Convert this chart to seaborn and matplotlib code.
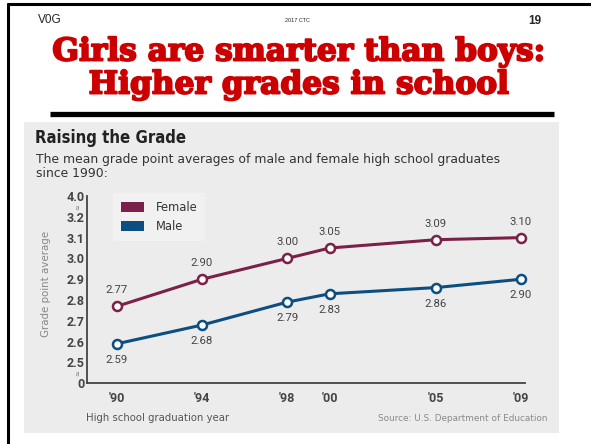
import pandas as pd
import seaborn as sns
import matplotlib.pyplot as plt
import matplotlib.patheffects as pe
from matplotlib.patches import Patch, Rectangle
from matplotlib.lines import Line2D

# data
years = [1990, 1994, 1998, 2000, 2005, 2009]
year_labels = ["'90", "'94", "'98", "'00", "'05", "'09"]
female_gpa = [2.77, 2.90, 3.00, 3.05, 3.09, 3.10]
male_gpa = [2.59, 2.68, 2.79, 2.83, 2.86, 2.90]

# broken y axis: "0" sits one step below 2.5, "4.0" one step above 3.2
ytick_pos = [2.4, 2.5, 2.6, 2.7, 2.8, 2.9, 3.0, 3.1, 3.2, 3.3]
ytick_labels = ["0", "2.5", "2.6", "2.7", "2.8", "2.9", "3.0", "3.1", "3.2", "4.0"]

colors = {"Female": "#7b2049", "Male": "#0d4e80"}

W, H = 591, 444
NARROW = "Roboto"


def px(x, y):
    # pixel position (from top-left) -> figure fraction
    return x / W, 1 - y / H


df = pd.DataFrame({
    "year": years * 2,
    "gpa": female_gpa + male_gpa,
    "sex": ["Female"] * len(years) + ["Male"] * len(years),
})

sns.set_style("white")
fig = plt.figure(figsize=(W / 100, H / 100), dpi=100)
fig.patch.set_facecolor("white")

# slide frame (top and left edges only)
fig.add_artist(Line2D([8 / W, 1], [1 - 4 / H, 1 - 4 / H], color="black", lw=2.2))
fig.add_artist(Line2D([8 / W, 8 / W], [0, 1 - 4 / H], color="black", lw=2.2))

# slide header
fig.text(*px(38, 20), "V0G", fontsize=8.5, family="Liberation Sans", va="center")
fig.text(*px(297, 20), "2017 CTC", fontsize=4, family="Liberation Sans", va="center", ha="center")
fig.text(*px(541, 21), "19", fontsize=8.5, family="Liberation Sans", weight="bold",
         va="center", ha="right")
title_fx = [pe.withStroke(linewidth=1.4, foreground="#cc0000")]
fig.text(*px(299, 52), "Girls are smarter than boys:", fontsize=22.5, family="DejaVu Serif",
         weight="heavy", color="#cc0000", ha="center", va="center", path_effects=title_fx)
fig.text(*px(299, 85), "Higher grades in school", fontsize=22.5, family="DejaVu Serif",
         weight="heavy", color="#cc0000", ha="center", va="center", path_effects=title_fx)
fig.add_artist(Line2D([50 / W, 554 / W], [1 - 114.5 / H, 1 - 114.5 / H], color="black", lw=3.8,
                      solid_capstyle="butt"))

# grey panel of the graphic
x0, y0 = px(24, 433)
fig.add_artist(Rectangle((x0, y0), 535 / W, 311 / H, transform=fig.transFigure,
                         facecolor="#ececec", edgecolor="none", zorder=0))

fig.text(*px(35, 138), "Raising the Grade", fontsize=12, family="DejaVu Sans",
         stretch="condensed", weight="bold", color="#222222", va="center")
fig.text(*px(36, 160), "The mean grade point averages of male and female high school graduates",
         fontsize=8.95, color="#333333", va="center")
fig.text(*px(36, 173), "since 1990:", fontsize=8.95, color="#333333", va="center")

# plot area
l, b = px(87, 383.3)
ax = fig.add_axes([l, b, (525 - 87) / W, (383.3 - 196) / H])
ax.set_facecolor("none")

sns.lineplot(data=df, x="year", y="gpa", hue="sex", palette=colors, ax=ax,
             marker="o", markersize=6.5, linewidth=2.2, legend=False)
for line in ax.lines:
    line.set_markerfacecolor("white")
    line.set_markeredgecolor(line.get_color())
    line.set_markeredgewidth(1.8)
    line.set_clip_on(False)

for yr, v in zip(years, female_gpa):
    ax.annotate(f"{v:.2f}", (yr, v), xytext=(0, 11.5), textcoords="offset points",
                ha="center", va="center", fontsize=8.2, color="#444444", family=NARROW)
for yr, v in zip(years, male_gpa):
    ax.annotate(f"{v:.2f}", (yr, v), xytext=(0, -11.5), textcoords="offset points",
                ha="center", va="center", fontsize=8.2, color="#444444", family=NARROW)

ax.set_xlim(1988.59, 2009.19)
ax.set_ylim(2.4, 3.3)
ax.set_xticks(years)
ax.set_xticklabels(year_labels)
ax.set_yticks(ytick_pos)
ax.set_yticklabels(ytick_labels)
ax.set_xlabel("")
ax.set_ylabel("")
for side in ["top", "right"]:
    ax.spines[side].set_visible(False)
for side in ["left", "bottom"]:
    ax.spines[side].set_color("#444444")
    ax.spines[side].set_linewidth(1.3)
ax.tick_params(axis="both", direction="in", length=4.5, width=1.1, color="#444444",
               labelcolor="#444444", labelsize=9)
ax.tick_params(axis="x", pad=6)
ax.tick_params(axis="y", pad=2)
for lab in ax.get_xticklabels() + ax.get_yticklabels():
    lab.set_family(NARROW)
    lab.set_weight("bold")

# axis break marks
fig.text(*px(78, 207), "≈", fontsize=5, color="#777777", ha="center", va="center", rotation=90)
fig.text(*px(78, 373), "≈", fontsize=5, color="#777777", ha="center", va="center", rotation=90)

fig.text(*px(46, 284), "Grade point average", rotation=90, fontsize=7.4, color="#888888",
         ha="center", va="center")
fig.text(*px(86, 418), "High school graduation year", fontsize=7.3, color="#555555", va="center")
fig.text(*px(547, 418), "Source: U.S. Department of Education", fontsize=6.4,
         color="#8a8a8a", ha="right", va="center")

handles = [Patch(facecolor=colors[k], edgecolor="none") for k in ["Female", "Male"]]
leg = ax.legend(handles, ["Female", "Male"], loc="upper left",
                bbox_to_anchor=px(113, 193), bbox_transform=fig.transFigure,
                borderaxespad=0, fontsize=8.3, frameon=True, handlelength=2.0,
                handleheight=0.9, handletextpad=1.0, labelspacing=0.5, borderpad=0.7,
                fancybox=False)
leg.get_frame().set_facecolor("#f3f3f3")
leg.get_frame().set_edgecolor("none")
for t in leg.get_texts():
    t.set_color("#333333")

fig.savefig("out.png", dpi=100)
